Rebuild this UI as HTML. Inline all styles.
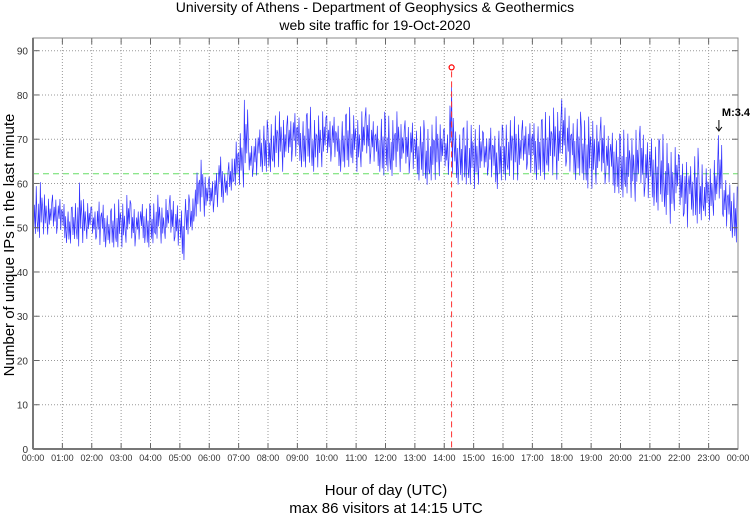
<!DOCTYPE html>
<html><head><meta charset="utf-8"><style>
body{margin:0;background:#fff;font-family:"Liberation Sans",sans-serif}
svg{display:block}
</style></head><body>
<svg id="chart" width="750" height="515" xmlns="http://www.w3.org/2000/svg">
<text x="375" y="12" text-anchor="middle" font-size="14">University of Athens - Department of Geophysics &amp; Geothermics</text>
<text x="375" y="30" text-anchor="middle" font-size="14">web site traffic for 19-Oct-2020</text>
<g id="grid"></g>
<g id="series"></g>
<g id="axes"></g>
<g id="overlay"></g>
<text transform="translate(14,245) rotate(-90)" text-anchor="middle" font-size="15">Number of unique IPs in the last minute</text>
<text x="386" y="495" text-anchor="middle" font-size="15">Hour of day (UTC)</text>
<text x="386" y="513" text-anchor="middle" font-size="15">max 86 visitors at 14:15 UTC</text>
</svg>
<script>
const highs=[60,61,58,57,58,58, 57,55,56,61,57,56, 55,58,57,54,56,57, 56,58,56,55,57,56, 56,58,55,57,58,57, 56,58,57,63,66,62,
62,64,68,63,66,70, 72,80,70,72,74,75, 74,76,77,75,76,78, 77,76,78,75,76,77, 76,77,75,76,78,76, 75,77,78,76,75,77,
76,75,77,74,75,76, 74,75,73,74,76,74, 73,86,74,73,75,74, 73,74,72,75,73,74, 74,75,76,74,75,76, 76,75,77,76,78,77,
80,78,76,77,75,76, 75,74,76,73,74,72, 73,72,71,73,74,72, 73,71,72,70,68,69, 67,68,66,69,65,64, 64,66,72,63,62,60];
const lows=[48,47,48,48,47,48, 46,46,47,45,46,47, 46,44,45,46,45,45, 45,46,44,46,46,45, 46,47,46,47,45,44, 42,48,49,52,53,52,
52,53,55,57,58,59, 59,58,60,60,62,62, 62,63,63,62,63,64, 63,63,64,62,63,63, 63,64,62,63,63,64, 62,63,62,63,62,61,
62,61,63,62,60,61, 60,61,59,60,60,61, 60,58,59,60,59,59, 58,59,60,59,58,60, 60,61,60,60,61,60, 60,61,60,62,61,60,
61,60,60,61,60,58, 58,59,57,58,57,57, 56,57,56,55,54,54, 54,53,55,52,50,53, 50,47,52,50,51,52, 51,52,50,48,47,46];
const yTicks=[0,10,20,30,40,50,60,70,80,90];
const xTickLabels=["00:00","01:00","02:00","03:00","04:00","05:00","06:00","07:00","08:00","09:00","10:00","11:00","12:00","13:00","14:00","15:00","16:00","17:00","18:00","19:00","20:00","21:00","22:00","23:00","00:00"];
const avgLevel=[62.2];
const maxPoint=[14.25,86];
const quakeMark=[23.35,3.4];

const NS="http://www.w3.org/2000/svg";
const L=33,R=738,T=38,B=449;
const x=h=>L+h*(R-L)/24;
function yy(v){return B-v*(B-50.7)/90;}
function mk(tag,attrs,parent){const e=document.createElementNS(NS,tag);for(const k in attrs)e.setAttribute(k,attrs[k]);parent.appendChild(e);return e;}
const grid=document.getElementById('grid'),ser=document.getElementById('series'),ax=document.getElementById('axes'),ov=document.getElementById('overlay');
yTicks.forEach(v=>{
  if(v>0){const g=mk('line',{x1:L,x2:R,y1:yy(v),y2:yy(v),stroke:'#999','stroke-dasharray':'1,2'},grid);
  
  }
  const t=mk('text',{x:L-5,y:yy(v)+4,'text-anchor':'end','font-size':10,fill:'#333'},ax);
  t.textContent=v;
  
  
  mk('line',{x1:L,x2:L+6,y1:yy(v),y2:yy(v),stroke:'#666'},ax);
  mk('line',{x1:R,x2:R-6,y1:yy(v),y2:yy(v),stroke:'#666'},ax);
});
xTickLabels.forEach((s,i)=>{
  const xp=x(i);
  if(i>0&&i<24){const g=mk('line',{x1:xp,x2:xp,y1:T,y2:B,stroke:'#999','stroke-dasharray':'1,2'},grid);
  
  }
  mk('line',{x1:xp,x2:xp,y1:B,y2:B-6,stroke:'#666'},ax);
  mk('line',{x1:xp,x2:xp,y1:T,y2:T+6,stroke:'#666'},ax);
  const t=mk('text',{x:xp,y:B+12,'text-anchor':'middle','font-size':9,fill:'#333'},ax);
  t.textContent=s;
  
  
});
const frame=mk('rect',{x:L,y:T,width:R-L,height:B-T,fill:'none',stroke:'#888','stroke-width':1},ax);


mk('line',{x1:L,x2:L,y1:T,y2:B,stroke:'#777','stroke-width':2},ax);
mk('line',{x1:L,x2:R,y1:B,y2:B,stroke:'#777','stroke-width':2},ax);
const avg=mk('line',{x1:L,x2:R,y1:yy(avgLevel[0]),y2:yy(avgLevel[0]),stroke:'#66dd66','stroke-dasharray':'6,4'},grid);


const fr=[0.85,0.15,0.6,0.05,0.95,0.3,0.7,0.4];
let d='';const n=highs.length,bw=24/n;
for(let i=0;i<n;i++){
  const sub=6;
  for(let k=0;k<sub;k++){
    const h=i*bw+bw*k/sub, f=fr[(i+k)%fr.length];
    const v=lows[i]+(highs[i]-lows[i])*f;
    d+=(d?'L':'M')+x(h).toFixed(2)+','+yy(v).toFixed(2);
  }
}
const p=mk('path',{d:d,fill:'none',stroke:'#0000ff','stroke-width':0.7,'stroke-opacity':0.8},ser);


const mx=x(maxPoint[0]),my=yy(maxPoint[1]);
const ml=mk('line',{x1:mx,x2:mx,y1:my+3,y2:B,stroke:'#ff3030','stroke-dasharray':'6,4'},ov);


const mc=mk('circle',{cx:mx,cy:my-1,r:2.5,fill:'none',stroke:'#ff0000','stroke-width':1.2},ov);


const qx=x(quakeMark[0]);
const qt=mk('text',{x:qx+3,y:116,'text-anchor':'start','font-size':11,'font-weight':'bold'},ov);
qt.textContent='M:'+quakeMark[1];


mk('line',{x1:qx,x2:qx,y1:120,y2:130,stroke:'#000'},ov);
mk('path',{d:`M${qx-3},127L${qx},131L${qx+3},127`,fill:'none',stroke:'#000'},ov);
</script>
</body></html>
